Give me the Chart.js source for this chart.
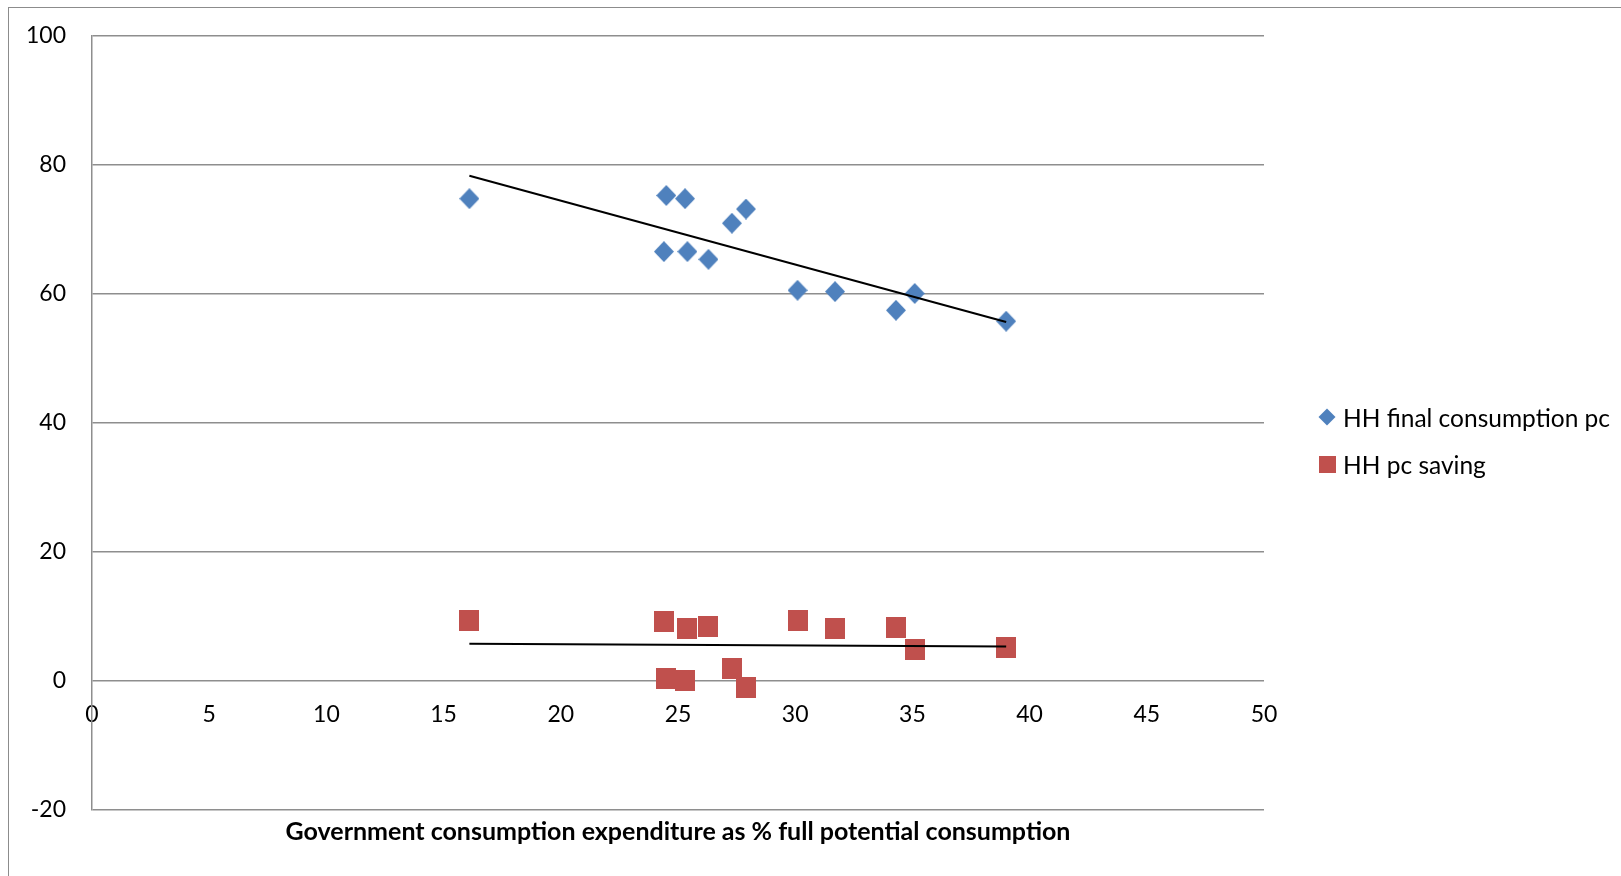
<!DOCTYPE html>
<html lang="en">
<head>
    <meta charset="UTF-8">
    <title>HH consumption and saving vs government consumption</title>
    <script src="https://cdn.jsdelivr.net/npm/chart.js"></script>
    <style>
        html, body {
            margin: 0;
            padding: 0;
            background: white;
            overflow: hidden;
        }
        body {
            width: 1621px;
            height: 876px;
            position: relative;
            font-family: 'Lato', sans-serif;
        }
        .frame {
            position: absolute;
            left: 8px;
            top: 7px;
            width: 1700px;
            height: 1000px;
            border-left: 1px solid #8c8c8c;
            border-top: 1px solid #8c8c8c;
        }
        #chart-wrap {
            position: absolute;
            left: 0;
            top: 0;
            width: 1621px;
            height: 876px;
        }
        .legend {
            position: absolute;
            left: 1316px;
            top: 402px;
            font-size: 24.5px;
            color: #000;
        }
        .legend-item {
            display: flex;
            align-items: center;
            height: 30px;
            margin-bottom: 17.5px;
        }
        .legend-item .mark {
            width: 22px;
            display: flex;
            justify-content: center;
            margin-right: 5px;
        }
        .diamond {
            width: 12px;
            height: 12px;
            background: #4F81BD;
            transform: rotate(45deg);
        }
        .square {
            width: 17px;
            height: 17px;
            background: #C0504D;
        }
    </style>
</head>
<body>
    <div class="frame"></div>
    <div id="chart-wrap"><canvas id="scatter"></canvas></div>
    <div class="legend">
        <div class="legend-item"><span class="mark"><span class="diamond"></span></span><span>HH final consumption pc</span></div>
        <div class="legend-item"><span class="mark"><span class="square"></span></span><span>HH pc saving</span></div>
    </div>

    <script>
        // --- data ---
        const govShare = [16.1, 24.5, 25.3, 27.3, 27.9, 24.4, 25.4, 26.3, 30.1, 31.7, 34.3, 35.1, 39.0];
        const hhConsumption = [74.7, 75.2, 74.7, 70.9, 73.1, 66.5, 66.5, 65.3, 60.5, 60.3, 57.4, 60.0, 55.7];
        const hhSaving = [9.3, 0.3, 0.0, 1.8, -1.1, 9.1, 8.0, 8.3, 9.3, 8.0, 8.2, 4.8, 5.1];

        const xTicks = [0, 5, 10, 15, 20, 25, 30, 35, 40, 45, 50];
        const yTicks = [-20, 0, 20, 40, 60, 80, 100];

        const seriesNames = ['HH final consumption pc', 'HH pc saving'];
        const xTitle = 'Government consumption expenditure as % full potential consumption';

        // --- marker images (Excel markers are a touch taller than wide) ---
        function makeMarker(kind, color) {
            const c = document.createElement('canvas');
            c.width = 20;
            c.height = 21;
            const g = c.getContext('2d');
            g.fillStyle = color;
            if (kind === 'diamond') {
                g.beginPath();
                g.moveTo(10, 0);
                g.lineTo(20, 10.5);
                g.lineTo(10, 21);
                g.lineTo(0, 10.5);
                g.closePath();
                g.fill();
            } else {
                g.fillRect(0, 0, 20, 21);
            }
            return c;
        }

        // least-squares line, drawn from min x to max x like Excel's trendline
        function trend(xs, ys) {
            const n = xs.length;
            const mx = xs.reduce((a, b) => a + b, 0) / n;
            const my = ys.reduce((a, b) => a + b, 0) / n;
            let sxy = 0, sxx = 0;
            for (let i = 0; i < n; i++) {
                sxy += (xs[i] - mx) * (ys[i] - my);
                sxx += (xs[i] - mx) * (xs[i] - mx);
            }
            const slope = sxy / sxx;
            const x0 = Math.min(...xs), x1 = Math.max(...xs);
            return [{x: x0, y: my + slope * (x0 - mx)}, {x: x1, y: my + slope * (x1 - mx)}];
        }

        const toPoints = (ys) => govShare.map((x, i) => ({x: x, y: ys[i]}));

        const gridGrey = '#8e8e8e';
        const tickFont = {family: 'Lato', size: 23};

        const ctx = document.getElementById('scatter').getContext('2d');
        new Chart(ctx, {
            type: 'scatter',
            data: {
                datasets: [
                    {
                        label: seriesNames[0],
                        data: toPoints(hhConsumption),
                        pointStyle: makeMarker('diamond', '#4F81BD'),
                        order: 2
                    },
                    {
                        label: seriesNames[1],
                        data: toPoints(hhSaving),
                        pointStyle: makeMarker('square', '#C0504D'),
                        order: 2
                    },
                    {
                        type: 'line',
                        label: 'trend1',
                        data: trend(govShare, hhConsumption),
                        borderColor: '#000',
                        borderWidth: 2,
                        pointRadius: 0,
                        fill: false,
                        order: 1
                    },
                    {
                        type: 'line',
                        label: 'trend2',
                        data: trend(govShare, hhSaving),
                        borderColor: '#000',
                        borderWidth: 2,
                        pointRadius: 0,
                        fill: false,
                        order: 1
                    }
                ]
            },
            options: {
                responsive: true,
                maintainAspectRatio: false,
                animation: false,
                layout: {
                    padding: {top: 35.5, right: 357, bottom: 0, left: 0}
                },
                plugins: {
                    legend: {display: false},
                    tooltip: {enabled: false},
                    title: {
                        display: true,
                        text: xTitle,
                        position: 'bottom',
                        fullSize: false,
                        color: '#000',
                        font: {family: 'Lato', size: 25, weight: 'bold'},
                        padding: {top: 7, bottom: 29.5}
                    }
                },
                scales: {
                    x: {
                        type: 'linear',
                        position: {y: 0},
                        min: 0,
                        max: 50,
                        afterFit: (s) => { s.height = 0; },
                        afterBuildTicks: (s) => { s.ticks = xTicks.map(v => ({value: v})); },
                        grid: {display: false, drawTicks: false},
                        border: {display: false},
                        ticks: {
                            color: '#000',
                            font: tickFont,
                            padding: 20,
                            maxRotation: 0
                        }
                    },
                    y: {
                        type: 'linear',
                        min: -20,
                        max: 100,
                        afterFit: (s) => {
                            s.width = 92;
                            // keep the plot edges where the layout padding puts them
                            s.paddingTop = 0;
                            s.paddingBottom = 0;
                        },
                        afterBuildTicks: (s) => { s.ticks = yTicks.map(v => ({value: v})); },
                        grid: {color: gridGrey, lineWidth: 1.5, drawTicks: false},
                        border: {display: true, color: gridGrey, width: 1.5},
                        ticks: {
                            color: '#000',
                            font: tickFont,
                            padding: 26
                        }
                    }
                }
            }
        });
    </script>
</body>
</html>
